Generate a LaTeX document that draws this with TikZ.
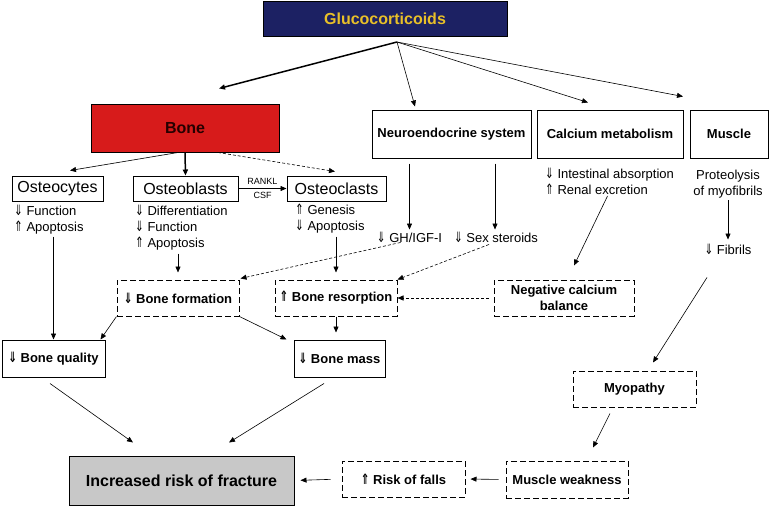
\documentclass[tikz,border=0pt]{standalone}
\usepackage{fontspec}
\setmainfont{Liberation Sans}
\newfontfamily\arrowfont{DejaVu Sans}
\usetikzlibrary{arrows.meta}

\definecolor{gcnavy}{RGB}{28,33,99}
\definecolor{gcgold}{RGB}{232,192,40}
\definecolor{bonered}{RGB}{215,27,27}
\definecolor{fracgray}{RGB}{200,200,200}

\newcommand{\dnarr}{{\arrowfont\scalebox{0.8}[1.1]{⇓}}}
\newcommand{\uparr}{{\arrowfont\scalebox{0.8}[1.1]{⇑}}}

\begin{document}
\begin{tikzpicture}[x=1pt,y=-1pt,>={Triangle[length=6pt,width=5pt]},
    solidbox/.style={draw,line width=1pt,inner sep=0pt,align=center},
    dashbox/.style={draw,line width=1pt,dash pattern=on 6pt off 3pt,inner sep=0pt,align=center},
    big/.style={font=\fontsize{16}{19}\selectfont\bfseries},
    mid/.style={font=\fontsize{13}{16}\selectfont\bfseries},
    cell/.style={font=\fontsize{16}{19}\selectfont},
    note/.style={inner sep=0pt,align=left,font=\fontsize{13}{16}\selectfont},
    link/.style={->,line width=0.6pt},
    dlink/.style={->,line width=0.6pt,dash pattern=on 3pt off 2pt}]
    \useasboundingbox (0,0) rectangle (769,506);

    % Top
    \node[solidbox,big,fill=gcnavy,text=gcgold,minimum width=244,minimum height=35] (gluco) at (385,18.5) {Glucocorticoids};
    \coordinate (gc) at (397,42);

    % Targets
    \node[solidbox,big,fill=bonered,text={black!85!red},minimum width=188,minimum height=48] (bone) at (185,128) {Bone};
    \node[solidbox,mid,minimum width=159,minimum height=48] (neuro) at (451.5,134) {Neuroendocrine system};
    \node[solidbox,mid,minimum width=146,minimum height=48] (calc) at (610,134) {Calcium metabolism};
    \node[solidbox,mid,minimum width=78,minimum height=48] (muscle) at (729,134) {Muscle};

    \draw[link,line width=1.5pt] (gc) -- ([shift={(34,-15)}]bone.north);
    \draw[link] (gc) -- ([shift={(-36.5,-3)}]neuro.north);
    \draw[link] (gc) -- ([shift={(-22,-7)}]calc.north);
    \draw[link] (gc) -- ([shift={(-46,-13)}]muscle.north);

    % Bone cells
    \node[solidbox,cell,minimum width=91,minimum height=25] (ocytes) at (57.5,188.5) {Osteocytes};
    \node[solidbox,cell,minimum width=105,minimum height=25] (oblasts) at (185.5,188.5) {Osteoblasts};
    \node[solidbox,cell,minimum width=99,minimum height=25] (oclasts) at (336.5,188.5) {Osteoclasts};

    \draw[link] ([shift={(-7,0)}]bone.south) -- ([shift={(12.5,-5)}]ocytes.north);
    \draw[link,line width=1.5pt] (bone.south) -- (oblasts.north);
    \draw[dlink] ([shift={(33,0)}]bone.south) -- ([shift={(-1.5,-4)}]oclasts.north);
    \draw[link] (oblasts.east) -- (oclasts.west)
        node[midway,above,font=\fontsize{9}{10}\selectfont] {RANKL}
        node[midway,below,font=\fontsize{9}{10}\selectfont] {CSF};

    \node[note,anchor=north west] (ocytesTxt) at (14,205) {\dnarr{} Function\\\uparr{} Apoptosis};
    \node[note,anchor=north west] (oblastsTxt) at (135,205) {\dnarr{} Differentiation\\\dnarr{} Function\\\uparr{} Apoptosis};
    \node[note,anchor=north west] (oclastsTxt) at (295,204) {\uparr{} Genesis\\\dnarr{} Apoptosis};

    % Neuroendocrine
    \node[note] (gh) at (409.5,237) {\dnarr{} GH/IGF-I};
    \node[note] (sex) at (496,237) {\dnarr{} Sex steroids};
    \draw[link,shorten <=5pt] (gh.north |- neuro.south) -- ([shift={(0,-2)}]gh.north);
    \draw[link,shorten <=5pt] ([shift={(-1,0)}]sex.north |- neuro.south) -- ([shift={(-1,-2)}]sex.north);

    % Calcium and muscle
    \node[note,anchor=north west] (calcTxt) at (545,168) {\dnarr{} Intestinal absorption\\\uparr{} Renal excretion};
    \node[note,align=center] (muscleTxt) at (728,184) {Proteolysis\\of myofibrils};
    \node[note] (fibrils) at (728,249) {\dnarr{} Fibrils};
    \draw[link,shorten <=2pt,shorten >=4pt] (muscleTxt.south) -- (fibrils.north);

    % Bone turnover
    \node[dashbox,mid,minimum width=122,minimum height=36] (bform) at (178,298) {\dnarr{} Bone formation};
    \node[dashbox,mid,minimum width=122,minimum height=36] (bresorp) at (336,298) {\uparr{} Bone resorption};
    \node[dashbox,mid,minimum width=140,minimum height=36] (negcal) at (564,298) {Negative calcium\\balance};

    \draw[link,shorten <=3pt,shorten >=7pt] (bform.north |- oblastsTxt.south) -- (bform.north);
    \draw[link,shorten <=3pt,shorten >=7pt] (bresorp.north |- oclastsTxt.south) -- (bresorp.north);
    \draw[dlink] ([shift={(-9,0)}]gh.south) -- ([shift={(1,-1)}]bform.north east);
    \draw[dlink] ([shift={(-7,2)}]sex.south) -- ([shift={(0,0)}]bresorp.north east);
    \draw[link] ([shift={(-2,1)}]calcTxt.south) -- ([shift={(10,-14)}]negcal.north);
    \draw[dlink,shorten <=5pt] (negcal.west) -- (bresorp.east);

    % Bone outcome
    \node[solidbox,mid,minimum width=103,minimum height=37] (bquality) at (53.5,358.5) {\dnarr{} Bone quality};
    \node[solidbox,mid,minimum width=91,minimum height=37] (bmass) at (339.5,358.5) {\dnarr{} Bone mass};

    \draw[link,shorten <=2pt] (ocytesTxt.south -| bquality.north) -- (bquality.north);
    \draw[link] (bform.south west) -- ([shift={(-5,0)}]bquality.north east);
    \draw[link] (bform.south east) -- ([shift={(-7,0)}]bmass.north west);
    \draw[link,shorten >=7pt] (bresorp.south) -- (bresorp.south |- bmass.north);

    % Muscle chain
    \node[dashbox,mid,minimum width=123,minimum height=36] (myopathy) at (634.5,389) {Myopathy};
    \node[dashbox,mid,minimum width=122,minimum height=37] (weakness) at (567,479.5) {Muscle weakness};
    \node[dashbox,mid,minimum width=123,minimum height=36] (falls) at (403.5,479) {\uparr{} Risk of falls};
    \draw[link] ([shift={(-21,23)}]fibrils.south) -- ([shift={(18.5,-8)}]myopathy.north);
    \draw[link] ([shift={(-24.5,6)}]myopathy.south) -- ([shift={(26,-13)}]weakness.north);
    \draw[link,shorten <=7pt,shorten >=5pt] (weakness.west) -- (falls.east);

    % Outcome
    \node[solidbox,big,fill=fracgray,minimum width=225,minimum height=49] (fracture) at (181.5,480.5) {Increased risk of fracture};
    \draw[link,shorten <=11pt,shorten >=6pt] (falls.west) -- (fracture.east);
    \draw[link] ([shift={(-3.5,6)}]bquality.south) -- ([shift={(-48.5,-13)}]fracture.north);
    \draw[link] ([shift={(-15.5,6)}]bmass.south) -- ([shift={(47.5,-13)}]fracture.north);

\end{tikzpicture}
\end{document}
